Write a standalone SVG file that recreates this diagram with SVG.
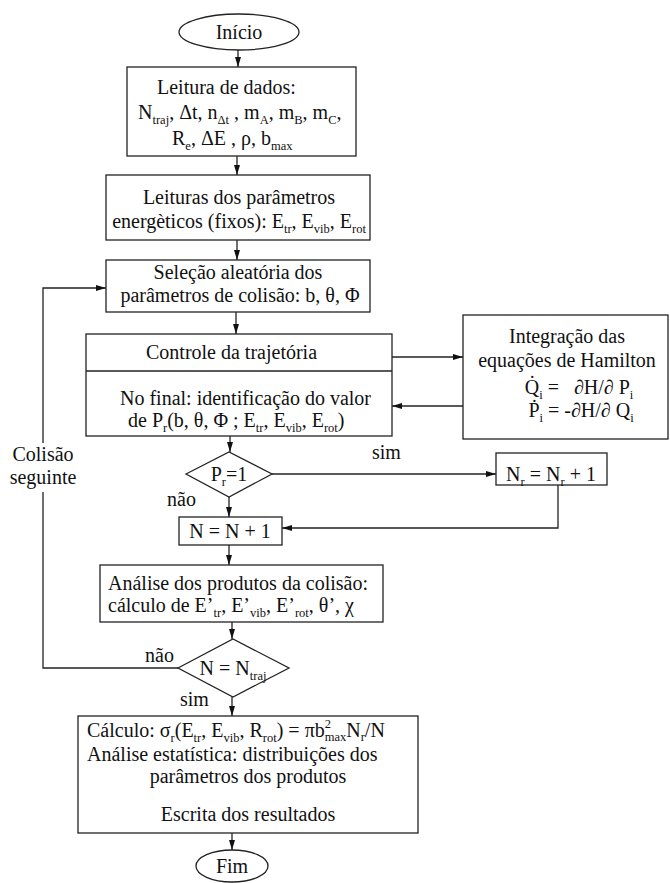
<svg xmlns="http://www.w3.org/2000/svg" width="670" height="883" viewBox="0 0 670 883">
<style>
text{font-family:"Liberation Serif","Times New Roman",serif;font-size:20px;fill:#111}
.m{text-anchor:middle}
.s{font-size:12.5px}
.b{fill:#fff;stroke:#222;stroke-width:1.3}
.c{fill:none;stroke:#222;stroke-width:1.3}
</style>
<defs>
<marker id="ah" viewBox="0 0 10 6" refX="10" refY="3" markerWidth="10" markerHeight="6" orient="auto" markerUnits="userSpaceOnUse"><path d="M0,0 L10,3 L0,6 z" fill="#111"/></marker>
</defs>
<g id="connectors">
<path class="c" d="M238,50 V67" marker-end="url(#ah)"/>
<path class="c" d="M237,156 V175" marker-end="url(#ah)"/>
<path class="c" d="M237,240 V260" marker-end="url(#ah)"/>
<path class="c" d="M236,312 V334" marker-end="url(#ah)"/>
<path class="c" d="M392,357 H463" marker-end="url(#ah)"/>
<path class="c" d="M463,406 H392" marker-end="url(#ah)"/>
<path class="c" d="M230,436 V452" marker-end="url(#ah)"/>
<path class="c" d="M272,474 H496" marker-end="url(#ah)"/>
<path class="c" d="M558,485 V528 H282" marker-end="url(#ah)"/>
<path class="c" d="M229,497 V517" marker-end="url(#ah)"/>
<path class="c" d="M229,545 V565" marker-end="url(#ah)"/>
<path class="c" d="M232,622 V639" marker-end="url(#ah)"/>
<path class="c" d="M232,697 V716" marker-end="url(#ah)"/>
<path class="c" d="M232,833 V850" marker-end="url(#ah)"/>
<path class="c" d="M178,668 H43 V492"/>
<path class="c" d="M43,443 V288 H106" marker-end="url(#ah)"/>
<text class="m" x="43" y="461">Colisão</text>
<text class="m" x="43" y="484">seguinte</text>
<text x="372" y="459">sim</text>
<text x="167" y="506">não</text>
<text x="145" y="662">não</text>
<text x="180" y="706">sim</text>
</g>
<g id="inicio">
<ellipse class="b" cx="239" cy="32" rx="60" ry="18"/>
<text class="m" x="239" y="39">Início</text>
</g>
<g id="leitura-dados">
<rect class="b" x="127" y="67" width="229" height="89"/>
<text x="157" y="94">Leitura de dados:</text>
<text x="138" y="119">N<tspan class="s" dy="5">traj</tspan><tspan dy="-5">, Δt, n</tspan><tspan class="s" dy="5">Δt</tspan><tspan dy="-5"> , m</tspan><tspan class="s" dy="5">A</tspan><tspan dy="-5">, m</tspan><tspan class="s" dy="5">B</tspan><tspan dy="-5">, m</tspan><tspan class="s" dy="5">C</tspan><tspan dy="-5">,</tspan></text>
<text x="172" y="145">R<tspan class="s" dy="5">e</tspan><tspan dy="-5">, ΔE , ρ,  b</tspan><tspan class="s" dy="5">max</tspan></text>
</g>
<g id="leitura-energeticos">
<rect class="b" x="106" y="175" width="264" height="65"/>
<text class="m" x="239" y="204">Leituras dos parâmetros</text>
<text class="m" x="239" y="228">energèticos (fixos): E<tspan class="s" dy="5">tr</tspan><tspan dy="-5">, E</tspan><tspan class="s" dy="5">vib</tspan><tspan dy="-5">, E</tspan><tspan class="s" dy="5">rot</tspan></text>
</g>
<g id="selecao">
<rect class="b" x="106" y="260" width="264" height="52"/>
<text class="m" x="238" y="279">Seleção aleatória dos</text>
<text class="m" x="240" y="302">parâmetros de colisão: b, θ, Φ</text>
</g>
<g id="controle">
<rect class="b" x="86" y="334" width="306" height="102"/>
<path class="c" d="M86,371 H392"/>
<text x="146" y="359">Controle da trajetória</text>
<text x="120" y="405">No final: identificação do valor</text>
<text x="128" y="427">de P<tspan class="s" dy="5">r</tspan><tspan dy="-5">(b, θ, Φ ; E</tspan><tspan class="s" dy="5">tr</tspan><tspan dy="-5">, E</tspan><tspan class="s" dy="5">vib</tspan><tspan dy="-5">, E</tspan><tspan class="s" dy="5">rot</tspan><tspan dy="-5">)</tspan></text>
</g>
<g id="integracao">
<rect class="b" x="463" y="315" width="205" height="124"/>
<text class="m" x="567" y="343">Integração das</text>
<text class="m" x="567" y="367">equações de Hamilton</text>
<text class="m" x="579" y="394">Q̇<tspan class="s" dy="5">i</tspan><tspan dy="-5"> =&#160;&#160;&#160;∂H/∂ P</tspan><tspan class="s" dy="5">i</tspan></text>
<text class="m" x="581" y="417">Ṗ<tspan class="s" dy="5">i</tspan><tspan dy="-5"> = -∂H/∂ Q</tspan><tspan class="s" dy="5">i</tspan></text>
</g>
<g id="decisao-pr">
<polygon class="b" points="186,474 229,452 272,474 229,497"/>
<text class="m" x="229" y="481">P<tspan class="s" dy="5">r</tspan><tspan dy="-5">=1</tspan></text>
</g>
<g id="nr">
<rect class="b" x="496" y="453" width="111" height="32"/>
<text class="m" x="551" y="481">N<tspan class="s" dy="5">r</tspan><tspan dy="-5"> = N</tspan><tspan class="s" dy="5">r</tspan><tspan dy="-5"> + 1</tspan></text>
</g>
<g id="n">
<rect class="b" x="179" y="517" width="103" height="28"/>
<text class="m" x="230" y="538">N = N + 1</text>
</g>
<g id="analise">
<rect class="b" x="100" y="565" width="283" height="57"/>
<text x="108" y="590">Análise dos produtos da colisão:</text>
<text x="108" y="612">cálculo de E’<tspan class="s" dy="5">tr</tspan><tspan dy="-5">, E’</tspan><tspan class="s" dy="5">vib</tspan><tspan dy="-5">, E’</tspan><tspan class="s" dy="5">rot</tspan><tspan dy="-5">, θ’, χ</tspan></text>
</g>
<g id="decisao-n">
<polygon class="b" points="178,668 233,639 289,668 233,697"/>
<text class="m" x="233" y="675">N = N<tspan class="s" dy="5">traj</tspan></text>
</g>
<g id="calculo">
<rect class="b" x="78" y="716" width="340" height="117"/>
<text x="87" y="737">Cálculo: σ<tspan class="s" dy="5">r</tspan><tspan dy="-5">(E</tspan><tspan class="s" dy="5">tr</tspan><tspan dy="-5">, E</tspan><tspan class="s" dy="5">vib</tspan><tspan dy="-5">, R</tspan><tspan class="s" dy="5">rot</tspan><tspan dy="-5">) = πb</tspan><tspan class="s" dy="-9">2</tspan><tspan class="s" dx="-6.3" dy="13">max</tspan><tspan dy="-4">N</tspan><tspan class="s" dy="4">r</tspan><tspan dy="-4">/N</tspan></text>
<text x="87" y="761">Análise estatística: distribuições dos</text>
<text class="m" x="248" y="783">parâmetros dos produtos</text>
<text class="m" x="248" y="821">Escrita dos resultados</text>
</g>
<g id="fim">
<ellipse class="b" cx="232" cy="866" rx="36" ry="16"/>
<text class="m" x="232" y="873">Fim</text>
</g>
</svg>
